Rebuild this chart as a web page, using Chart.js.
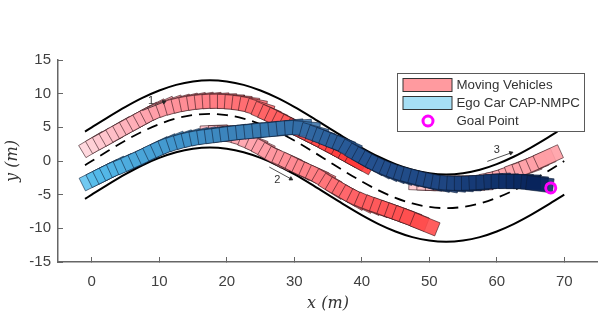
<!DOCTYPE html>
<html><head><meta charset="utf-8">
<style>html,body{margin:0;padding:0;background:#fff}canvas{display:block}</style>
<script src="https://cdn.jsdelivr.net/npm/chart.js@4"></script>
</head><body><canvas id="c" width="598" height="317"></canvas>
<script>
// Road geometry
const roadX      = [-1,0,2.5,5,7.5,10,12.5,15,17.5,20,22.5,25,27.5,30,32.5,35,37.5,40,42.5,45,47.5,50,52.5,55,57.5,60,62.5,65,67.5,70];
const roadCentre = [-0.63,0,1.56,3.04,4.37,5.47,6.31,6.82,7,6.82,6.31,5.47,4.37,3.04,1.56,0,-1.56,-3.04,-4.37,-5.47,-6.31,-6.82,-7,-6.82,-6.31,-5.47,-4.37,-3.04,-1.56,0];
const roadUpper  = [4.37,5,6.56,8.04,9.37,10.47,11.31,11.82,12,11.82,11.31,10.47,9.37,8.04,6.56,5,3.44,1.96,0.63,-0.47,-1.31,-1.82,-2,-1.82,-1.31,-0.47,0.63,1.96,3.44,4.38];
const roadLower  = [-5.63,-5,-3.44,-1.96,-0.63,0.47,1.31,1.82,2,1.82,1.31,0.47,-0.63,-1.96,-3.44,-5,-6.56,-8.04,-9.37,-10.47,-11.31,-11.82,-12,-11.82,-11.31,-10.47,-9.37,-8.04,-6.56,-5];
// Vehicle rear-end positions over time
const car1X = [-1.4,-0.4,0.6,1.6,2.6,3.6,4.6,5.6,6.6,7.6,8.7,9.8,10.9,12,13.1,14.2,15.3,16.4,17.5,18.6,19.7,20.8,21.9,23,24,25,26,27,28,29,30,31,32,33,34,35,36,37,38];
const car1Y = [1.4,2,2.55,3.1,3.7,4.25,4.8,5.35,5.9,6.45,7,7.45,7.8,8.1,8.35,8.55,8.7,8.8,8.85,8.85,8.8,8.7,8.55,8.3,7.9,7.45,7,6.5,6,5.5,5,4.5,4,3.5,2.95,2.45,1.9,1.35,0.8];
const car2X = [16.1,17.3,18.5,19.7,20.9,22,23.1,24.1,25.1,26.1,27.1,28.1,29.1,30.1,31.1,32.1,33.1,34.1,35.1,36.1,37.1,38.2,39.3,40.4,41.5,42.6,43.7,44.8,45.9,47.5];
const car2Y = [4.15,4.2,4.15,4,3.75,3.35,2.9,2.4,1.85,1.25,0.8,0.35,-0.15,-0.65,-1.1,-1.55,-2.05,-2.7,-3.3,-3.85,-4.45,-5.05,-5.55,-6,-6.4,-6.8,-7.2,-7.6,-8,-8.65];
const car3X = [47,48.2,49.4,50.6,51.8,53,54.2,55.4,56.5,57.6,58.6,59.6,60.6,61.5,62.6,63.6,64.7,65.8];
const car3Y = [-3.2,-3.25,-3.3,-3.3,-3.3,-3.3,-3.3,-3.3,-3.25,-3.05,-2.85,-2.6,-2.3,-1.9,-1.55,-1.15,-0.7,-0.2];
const egoX = [-1.4,-0.4,0.6,1.6,2.6,3.6,4.7,5.8,6.9,8,9.1,10.2,11.3,12.4,13.5,14.6,15.7,16.8,17.9,19,20.2,21.4,22.6,23.8,25,26.2,27.4,28.6,29.8,31,32,33,34,35,36,37,38,39,40,41,42,43,44,45,46,47.1,48.2,49.3,50.4,51.5,52.6,53.7,54.8,55.9,57,58.1,59.2,60.3,61.4,62.5,63.6,64.4];
const egoY = [-3.5,-3,-2.5,-2,-1.5,-1.1,-0.6,-0.1,0.4,0.95,1.45,1.95,2.35,2.7,3,3.25,3.45,3.6,3.75,3.9,4.05,4.2,4.3,4.45,4.55,4.65,4.8,4.9,4.95,4.7,4.35,4,3.6,3.2,2.85,2.35,1.75,1.2,0.65,0.1,-0.4,-0.85,-1.25,-1.6,-1.9,-2.2,-2.5,-2.75,-3,-3.15,-3.25,-3.3,-3.3,-3.25,-3.2,-3.1,-3.05,-3.05,-3.05,-3.05,-3.1,-3.2];
const goalX = [68];
const goalY = [-4];
const arrowsX = [[7.5,10.7],[26.3,29.5],[58.6,62.1]];
const arrowsY = [[7.5,8.77],[-0.9,-2.65],[-0.06,1.2]];
const arrowNames = ["1","2","3"];
const arrowNameX = [8.8,27.5,60];
const arrowNameY = [8.9,-2.8,1.6];
const xTicks = [0,10,20,30,40,50,60,70];
const yTicks = [-15,-10,-5,0,5,10,15];
const legendNames = ["Moving Vehicles","Ego Car CAP-NMPC","Goal Point"];

// Car body and colours over time
const CAR_L = 4, CAR_W = 2.1;
const stops1 = [[255,212,218],[255,160,170],[255,120,126],[255,88,88],[255,58,58]];
const stops2 = [[255,190,198],[255,158,168],[255,128,134],[255,95,98],[255,76,76]];
const stops3 = [[255,200,205],[255,190,195],[255,170,176],[255,158,165]];
const stopsE = [[88,192,238],[66,150,205],[56,120,175],[38,84,146],[30,70,130],[8,36,92]];
function ramp(stops,t){
  const p=t*(stops.length-1), i=Math.min(Math.floor(p),stops.length-2), f=p-i;
  return stops[i].map((v,k)=>Math.round(v+(stops[i+1][k]-v)*f));
}
function carBody(xs,ys,i){
  const a=Math.max(i-1,0), b=Math.min(i+1,xs.length-1);
  const dx=xs[b]-xs[a], dy=ys[b]-ys[a], n=Math.hypot(dx,dy);
  const ux=dx/n, uy=dy/n, hx=-uy*CAR_W/2, hy=ux*CAR_W/2;
  const x=xs[i], y=ys[i];
  return [
    {x:x+hx,y:y+hy},{x:x+ux*CAR_L+hx,y:y+uy*CAR_L+hy},
    {x:x+ux*CAR_L-hx,y:y+uy*CAR_L-hy},{x:x-hx,y:y-hy},{x:x+hx,y:y+hy}
  ];
}
function carSets(xs,ys,stops,alpha,edge){
  return xs.map((_,i)=>{
    const c=ramp(stops,i/(xs.length-1));
    return {type:'scatter',showLine:true,data:carBody(xs,ys,i),tension:0,fill:'shape',
      backgroundColor:`rgba(${c[0]},${c[1]},${c[2]},${alpha})`,borderColor:edge,borderWidth:0.8,
      pointRadius:0,pointHoverRadius:0};
  });
}
function curve(xs,ys,extra){
  return Object.assign({type:'scatter',showLine:true,data:xs.map((x,i)=>({x,y:ys[i]})),tension:0.4,
    cubicInterpolationMode:'monotone',borderColor:'#000',borderWidth:2,pointRadius:0,fill:false},extra||{});
}
const datasets=[
  curve(roadX.slice(0,-1).concat([69]),roadUpper),
  curve(roadX,roadLower),
  curve(roadX,roadCentre,{borderDash:[11,7],borderWidth:1.8}),
  ...carSets(car1X,car1Y,stops1,0.9,'rgba(50,20,25,.75)'),
  ...carSets(car2X,car2Y,stops2,0.9,'rgba(50,20,25,.75)'),
  ...carSets(car3X,car3Y,stops3,0.9,'rgba(50,20,25,.75)'),
  ...carSets(egoX,egoY,stopsE,0.85,'rgba(10,25,50,.7)'),
  {type:'scatter',data:goalX.map((x,i)=>({x,y:goalY[i]})),pointStyle:'circle',pointRadius:5,
    borderColor:'#ff00ff',borderWidth:3,backgroundColor:'rgba(0,0,0,0)'},
  ...arrowsX.map((xs,k)=>{
    const a=Math.atan2(-(arrowsY[k][1]-arrowsY[k][0])*6.73,(xs[1]-xs[0])*6.75)*180/Math.PI;
    return {type:'scatter',showLine:true,data:xs.map((x,i)=>({x,y:arrowsY[k][i]})),tension:0,
      borderColor:'#222',borderWidth:0.8,pointStyle:'triangle',pointRadius:[0,2.2],pointRotation:a+90,
      backgroundColor:'#222',pointBorderColor:'#222',pointBackgroundColor:'#222',fill:false};
  })
].reverse();
const overlay={id:'overlay',afterDraw(chart){
  const g=chart.ctx,X=chart.scales.x,Y=chart.scales.y;
  g.save();
  g.fillStyle='#333';g.font='11px "Liberation Sans"';g.textAlign='center';g.textBaseline='middle';
  arrowNames.forEach((t,i)=>g.fillText(t,X.getPixelForValue(arrowNameX[i]),Y.getPixelForValue(arrowNameY[i])));
  // legend
  g.fillStyle='#fff';g.fillRect(397.5,73.5,187,58);
  g.strokeStyle='#5a5a5a';g.lineWidth=1;g.strokeRect(397.5,73.5,187,58);
  g.strokeStyle='#333';g.lineWidth=1;
  g.fillStyle='#ff9a9f';g.fillRect(403,78.5,49,13);g.strokeRect(403,78.5,49,13);
  g.fillStyle='#a6dff5';g.fillRect(403,96.5,49,13);g.strokeRect(403,96.5,49,13);
  g.beginPath();g.arc(428,121,5,0,Math.PI*2);g.strokeStyle='#ff00ff';g.lineWidth=3;g.stroke();
  g.fillStyle='#333';g.font='13.3px "Liberation Sans"';g.textAlign='left';
  g.fillText(legendNames[0],456.5,85);g.fillText(legendNames[1],456.5,103);g.fillText(legendNames[2],456.5,121.5);
  g.restore();
}};
new Chart(document.getElementById('c'),{
  type:'scatter',
  data:{datasets},
  plugins:[overlay],
  options:{
    responsive:false,animation:false,devicePixelRatio:1,
    layout:{autoPadding:false,padding:{top:60,right:0,left:0,bottom:0}},
    plugins:{legend:{display:false},tooltip:{enabled:false}},
    scales:{
      x:{type:'linear',min:-5,max:75,position:'bottom',
        afterBuildTicks(s){s.ticks=xTicks.map(v=>({value:v}));},
        afterFit(s){s.height=55;s.paddingRight=0;s.paddingLeft=0;},
        grid:{drawOnChartArea:false,drawTicks:true,tickLength:-5,tickColor:'#666',tickWidth:1,color:'#666'},
        border:{color:'#666',width:1.5},
        ticks:{color:'#404040',font:{family:'"Liberation Sans"',size:15},padding:16,maxRotation:0,autoSkip:false},
        title:{display:true,text:'x (m)',color:'#333',font:{family:'"DejaVu Serif"',size:16,style:'italic'},padding:{top:0,bottom:4}}
      },
      y:{type:'linear',min:-15,max:15,position:'left',
        afterBuildTicks(s){s.ticks=yTicks.map(v=>({value:v}));},
        afterFit(s){s.width=58;s.paddingTop=0;s.paddingBottom=0;},
        grid:{drawOnChartArea:false,drawTicks:true,tickLength:-5,tickColor:'#666',tickWidth:1,color:'#666'},
        border:{color:'#666',width:1.5},
        ticks:{color:'#404040',font:{family:'"Liberation Sans"',size:15},padding:12,autoSkip:false},
        title:{display:true,text:'y (m)',color:'#333',font:{family:'"DejaVu Serif"',size:16,style:'italic'},padding:{top:3,bottom:0}}
      }
    }
  }
});
</script></body></html>
